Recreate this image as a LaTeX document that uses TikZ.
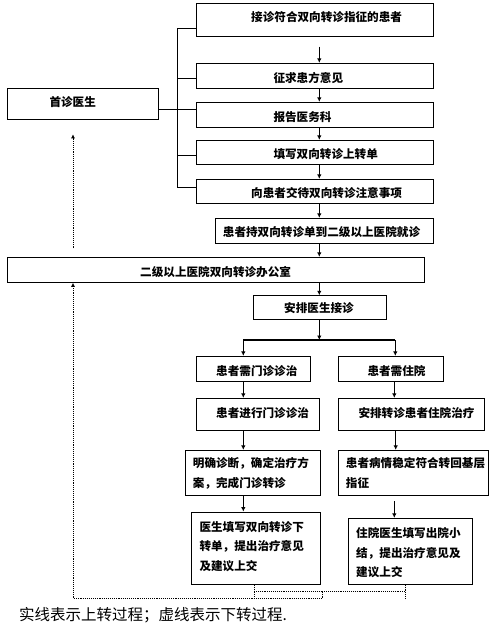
\documentclass[tikz,border=0pt]{standalone}
\usepackage{fontspec}
\setmainfont{Noto Sans CJK SC}
\usetikzlibrary{arrows.meta}
\begin{document}
\begin{tikzpicture}[x=1pt,y=-1pt,
  box/.style={draw=black,line width=0.9pt,rectangle,inner sep=0pt},
  txt/.style={inner sep=0pt,font=\fontsize{11.6}{19.5}\selectfont\bfseries},
  mtxt/.style={txt,align=left,anchor=north west},
  arr/.style={line width=0.9pt,-{Latex[length=4.5pt,width=4.5pt]}},
  ln/.style={line width=0.9pt},
  dot/.style={line width=0.9pt,dash pattern=on 0.9pt off 1pt},
  darr/.style={dot,-{Latex[length=4pt,width=4pt]}}]
\useasboundingbox (0,0) rectangle (490,626);
% boxes
\node[box,minimum width=236.6pt,minimum height=32.7pt] (b1) at (315,19.7) {};
\node[box,minimum width=236.6pt,minimum height=25pt] (b2) at (315,75.8) {};
\node[box,minimum width=236.6pt,minimum height=25pt] (b3) at (315,114.8) {};
\node[box,minimum width=236.6pt,minimum height=24pt] (b4) at (315,152.3) {};
\node[box,minimum width=236.6pt,minimum height=24pt] (b5) at (315,191.3) {};
\node[box,minimum width=151pt,minimum height=31pt] (first) at (82.8,103.8) {};
\node[box,minimum width=218pt,minimum height=25pt] (b6) at (324.3,230.8) {};
\node[box,minimum width=417pt,minimum height=25pt] (office) at (215.8,269.8) {};
\node[box,minimum width=132.7pt,minimum height=23.6pt] (arrange) at (319.7,307.5) {};
\node[box,minimum width=113.6pt,minimum height=25.4pt] (out1) at (253.5,369) {};
\node[box,minimum width=105pt,minimum height=25.4pt] (in1) at (390.8,369) {};
\node[box,minimum width=122.6pt,minimum height=32pt] (out2) at (258,414.3) {};
\node[box,minimum width=146pt,minimum height=32pt] (in2) at (411.3,414.3) {};
\node[box,minimum width=135pt,minimum height=45pt] (out3) at (252.8,472.8) {};
\node[box,minimum width=150pt,minimum height=45pt] (in3) at (413.3,472.8) {};
\node[box,minimum width=129.3pt,minimum height=72.3pt] (out4) at (255.7,548.2) {};
\node[box,minimum width=124pt,minimum height=66pt] (in4) at (410.3,551.3) {};
% texts
\node[txt,anchor=base west] (t1) at (251,21.2) {接诊符合双向转诊指征的患者};
\node[txt,anchor=base west] (t2) at (273.3,82.8) {征求患方意见};
\node[txt,anchor=base west] (t3) at (273.3,121.8) {报告医务科};
\node[txt,anchor=base west] (t4) at (273.3,158.5) {填写双向转诊上转单};
\node[txt,anchor=base west] (t5) at (251,197.8) {向患者交待双向转诊注意事项};
\node[txt,anchor=base west] (tf) at (49.3,106.2) {首诊医生};
\node[txt,anchor=base west] (t6) at (222.7,236.8) {患者持双向转诊单到二级以上医院就诊};
\node[txt,anchor=base west] (to) at (140,276.2) {二级以上医院双向转诊办公室};
\node[txt,anchor=base west] (ta) at (284,312.8) {安排医生接诊};
\node[txt,anchor=base west] (to1) at (216,375.2) {患者需门诊诊治};
\node[txt,anchor=base west] (ti1) at (367.3,375.2) {患者需住院};
\node[txt,anchor=base west] (to2) at (216,417.8) {患者进行门诊诊治};
\node[txt,anchor=base west] (ti2) at (358.3,417.8) {安排转诊患者住院治疗};
\node[mtxt] (to3) at (192.7,457.5) {明确诊断，确定治疗方\\案，完成门诊转诊};
\node[mtxt] (ti3) at (345.7,457.5) {患者病情稳定符合转回基层\\指征};
\node[mtxt] (to4) at (199.3,520.9) {医生填写双向转诊下\\转单，提出治疗意见\\及建议上交};
\node[mtxt] (ti4) at (356,527.5) {住院医生填写出院小\\结，提出治疗意见及\\建议上交};
\node[inner sep=0pt,anchor=base west,font=\fontsize{15.5}{18}\selectfont] (leg) at (19,620.5) {实线表示上转过程；虚线表示下转过程.};
% coordinates
\coordinate (ax) at (319.3,0);
\coordinate (lx) at (243.3,0);
\coordinate (rx) at (394.3,0);
\coordinate (rx2) at (395.7,0);
\coordinate (bx) at (177.3,0);
\coordinate (br) at (319.3,340);
\coordinate (brl) at (243.3,340);
\coordinate (brr) at (395.3,340);
% bracket
\draw[ln] (b1.west |- 0,28.3) -- (bx |- 0,28.3) -- (bx |- 0,187.3) -- (b5.west |- 0,187.3);
\draw[ln] (bx |- 0,78.3) -- (b2.west |- 0,78.3);
\draw[ln] (bx |- 0,155.7) -- (b4.west |- 0,155.7);
\draw[ln] (first.east |- 0,109.3) -- (b3.west |- 0,109.3);
% main chain
\draw[arr] (ax |- 0,46.7) -- (ax |- b2.north);
\draw[arr] (ax |- b2.south) -- (ax |- b3.north);
\draw[arr] (ax |- b3.south) -- (ax |- b4.north);
\draw[arr] (ax |- b4.south) -- (ax |- b5.north);
\draw[arr] (ax |- b5.south) -- (ax |- b6.north);
\draw[arr] (ax |- b6.south) -- (ax |- office.north);
\draw[arr] (ax |- office.south) -- (ax |- arrange.north);
\draw[arr] (ax |- arrange.south) -- (br);
\draw[line width=1.6pt] (brl) -- (brr);
\draw[arr] (brl) -- (lx |- out1.north);
\draw[arr] (brr) -- (brr |- in1.north);
\draw[arr] (lx |- out1.south) -- (lx |- out2.north);
\draw[arr] (lx |- out2.south) -- (lx |- out3.north);
\draw[arr] (lx |- out3.south) -- (lx |- out4.north);
\draw[arr] (rx |- in1.south) -- (rx |- in2.north);
\draw[arr] (rx2 |- in2.south) -- (rx2 |- in3.north);
\draw[arr] (rx |- 0,501) -- (rx |- in4.north);
% dotted return
\coordinate (dl) at (254,599.3);
\coordinate (dr) at (405,599.3);
\coordinate (dm) at (322.7,598.3);
\coordinate (dx) at (73,598.3);
\draw[dot] (dl |- out4.south) -- (dl);
\draw[dot] (dr |- in4.south) -- (dr);
\draw[dot] (254,591.7) -- (405,591.7);
\draw[dot] (dm |- 0,591.7) -- (dm) -- (dx);
\draw[darr] (dx) -- (dx |- office.south);
\draw[darr] (73,248.3) -- (73,134.3);
\end{tikzpicture}
\end{document}
